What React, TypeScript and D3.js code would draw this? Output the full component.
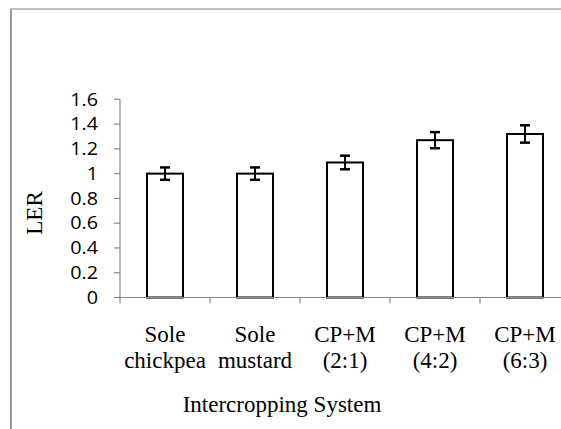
import React from "react";
import * as d3 from "d3";

const categories = [["Sole", "chickpea"], ["Sole", "mustard"], ["CP+M", "(2:1)"], ["CP+M", "(4:2)"], ["CP+M", "(6:3)"]];
const values = [1.0, 1.0, 1.09, 1.27, 1.32];
const errors = [0.05, 0.05, 0.055, 0.065, 0.07];
const yTicks = [0, 0.2, 0.4, 0.6, 0.8, 1, 1.2, 1.4, 1.6];

export default function App() {
  const W = 561, H = 429;
  const x0 = 120, x1 = 570, yTop = 99.3, yBot = 297.5;
  const x = d3.scaleBand<number>().domain(d3.range(values.length)).range([x0, x1]);
  const y = d3.scaleLinear().domain([0, 1.6]).range([yBot, yTop]);
  const bw = 36;
  const serif = "'Liberation Serif', 'Times New Roman', serif";
  const sans = "'Open Sans', 'Noto Sans', sans-serif";
  const sx = 1.13;
  return (
    <svg width={W} height={H} style={{ position: "absolute", left: 0, top: 0, background: "#fff" }}>
      <line x1={11} y1={9} x2={11} y2={H} stroke="#999" strokeWidth={2} />
      <line x1={10} y1={9} x2={W} y2={9} stroke="#aaa" strokeWidth={1.5} />
      {/* y axis */}
      <line x1={x0} y1={yTop} x2={x0} y2={yBot} stroke="#888" strokeWidth={1.2} />
      {yTicks.map((t) => (
        <g key={t}>
          <line x1={x0 - 6} x2={x0} y1={y(t)} y2={y(t)} stroke="#888" strokeWidth={1.2} />
          <text transform={`translate(98,${y(t)}) scale(${sx},1)`} dy="0.36em" textAnchor="end" fontFamily={sans} fontSize={17.5} fill="#000">
            {d3.format("~g")(t)}
          </text>
        </g>
      ))}
      {/* bars */}
      {values.map((v, i) => {
        const cx = (x(i) as number) + x.bandwidth() / 2;
        return (
          <g key={i}>
            <rect x={cx - bw / 2} y={y(v)} width={bw} height={yBot - y(v)} fill="#fff" stroke="#000" strokeWidth={2} />
            <line x1={cx} x2={cx} y1={y(v + errors[i])} y2={y(v - errors[i])} stroke="#000" strokeWidth={2} />
            <line x1={cx - 5} x2={cx + 5} y1={y(v + errors[i])} y2={y(v + errors[i])} stroke="#000" strokeWidth={2.5} />
            <line x1={cx - 5} x2={cx + 5} y1={y(v - errors[i])} y2={y(v - errors[i])} stroke="#000" strokeWidth={2.5} />
          </g>
        );
      })}
      {/* x axis */}
      <line x1={x0} x2={W} y1={yBot} y2={yBot} stroke="#888" strokeWidth={1.2} />
      {d3.range(values.length + 1).map((i) => {
        const tx = x0 + i * x.bandwidth();
        return <line key={i} x1={tx} x2={tx} y1={yBot} y2={yBot + 6} stroke="#888" strokeWidth={1.2} />;
      })}
      {categories.map((c, i) => {
        const cx = (x(i) as number) + x.bandwidth() / 2;
        return (
          <text key={i} textAnchor="middle" fontFamily={serif} fontSize={23} fill="#000">
            <tspan x={cx} y={341.5}>{c[0]}</tspan>
            <tspan x={cx} y={368}>{c[1]}</tspan>
          </text>
        );
      })}
      <text x={282} y={411.5} textAnchor="middle" fontFamily={serif} fontSize={23} fill="#000">
        Intercropping System
      </text>
      <text transform={`translate(42,213) rotate(-90)`} textAnchor="middle" fontFamily={serif} fontSize={23} fill="#000">
        LER
      </text>
    </svg>
  );
}
